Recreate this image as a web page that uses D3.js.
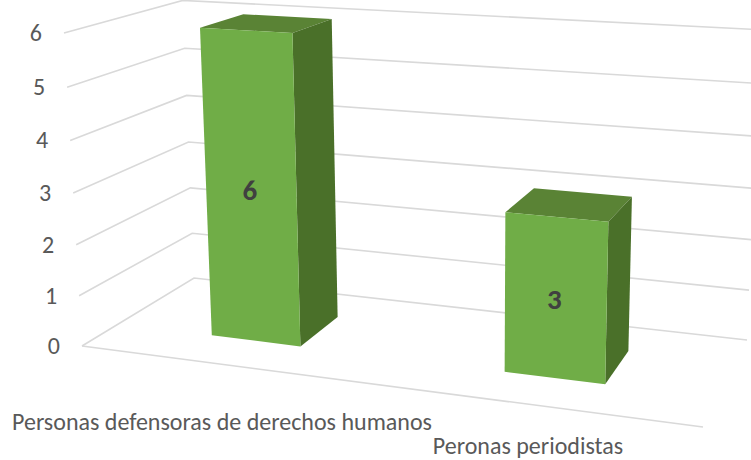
<!DOCTYPE html>
<html><head><meta charset="utf-8">
<script src="https://cdn.jsdelivr.net/npm/d3@7"></script>
<style>html,body{margin:0;padding:0;background:#fff}svg{display:block}</style>
</head><body><svg id="c" width="751" height="460"></svg>
<script>
const categories = ["Personas defensoras de derechos humanos", "Peronas periodistas"];
const values = [6, 3];
const tickValues = [0, 1, 2, 3, 4, 5, 6];

const W = 751, H = 460;
const svg = d3.select("#c");

// Perspective box: corners on screen and the projective weights of its three axes
const O = [82, 346], R = [703, 427], B = [194, 278], T = [64, 33];
const wU = -0.1238, wD = 0.1328, wV = -0.044;
const vScale = d3.scaleLinear().domain([0, 6]).range([0, 1]);
const uScale = d3.scaleBand().domain(categories).range([0.002, 1.002]).paddingInner(0.684).paddingOuter(0.342);
const FRONT = 0.30, BACK = 0.70;

function project(u, d, v) {
  const w = vScale(v);
  const den = 1 + wU * u + wD * d + wV * w;
  const c = i => O[i] + u * ((1 + wU) * R[i] - O[i]) + d * ((1 + wD) * B[i] - O[i]) + w * ((1 + wV) * T[i] - O[i]);
  return [c(0) / den, c(1) / den];
}
const line = d3.line();

// Gridlines on the left and back walls
const grid = svg.append("g").attr("fill", "none").attr("stroke", "#d9d9d9").attr("stroke-width", 1.6);
grid.selectAll("path").data(tickValues).join("path")
  .attr("d", v => line([project(0, 0, v), project(0, 1, v), project(1, 1, v)]));
grid.append("path").attr("d", line([project(0, 0, 0), project(1, 0, 0)]));

// Value axis labels
const font = "Carlito, Calibri, 'Open Sans', sans-serif";
svg.append("g").selectAll("text").data(tickValues).join("text")
  .attr("x", v => project(0, 0, v)[0] - 22)
  .attr("y", v => project(0, 0, v)[1] + 8)
  .attr("text-anchor", "end").attr("fill", "#595959")
  .attr("font-family", font).attr("font-size", 24)
  .text(v => v);

// Bars
const faces = [
  {fill: "#5a8335", pts: (a, b, v) => [[a, FRONT, v], [b, FRONT, v], [b, BACK, v], [a, BACK, v]]},
  {fill: "#4a7029", pts: (a, b, v) => [[b, FRONT, 0], [b, BACK, 0], [b, BACK, v], [b, FRONT, v]]},
  {fill: "#70ad47", pts: (a, b, v) => [[a, FRONT, 0], [b, FRONT, 0], [b, FRONT, v], [a, FRONT, v]]}
];
const bars = svg.append("g").selectAll("g").data(categories).join("g");
bars.selectAll("path").data((c, i) => faces.map(f => ({f, a: uScale(c), b: uScale(c) + uScale.bandwidth(), v: values[i]})))
  .join("path")
  .attr("fill", d => d.f.fill)
  .attr("d", d => line(d.f.pts(d.a, d.b, d.v).map(p => project(...p))) + "Z");

// Value labels
bars.append("text")
  .attr("x", (c, i) => project(uScale(c) + uScale.bandwidth() / 2, FRONT, values[i] / 2)[0] - 1)
  .attr("y", (c, i) => project(uScale(c) + uScale.bandwidth() / 2, FRONT, values[i] / 2)[1] + 10.5)
  .attr("text-anchor", "middle").attr("fill", "#404040")
  .attr("font-family", font).attr("font-size", 29).attr("font-weight", 700)
  .text((c, i) => values[i]);

// Category labels
const labelX = d3.scaleOrdinal().domain(categories).range([222, 528]);
const labelY = d3.scaleOrdinal().domain(categories).range([430, 454]);
svg.append("g").selectAll("text").data(categories).join("text")
  .attr("x", c => labelX(c)).attr("y", c => labelY(c))
  .attr("text-anchor", "middle").attr("fill", "#595959")
  .attr("font-family", font).attr("font-size", 24)
  .text(c => c);
</script></body></html>
